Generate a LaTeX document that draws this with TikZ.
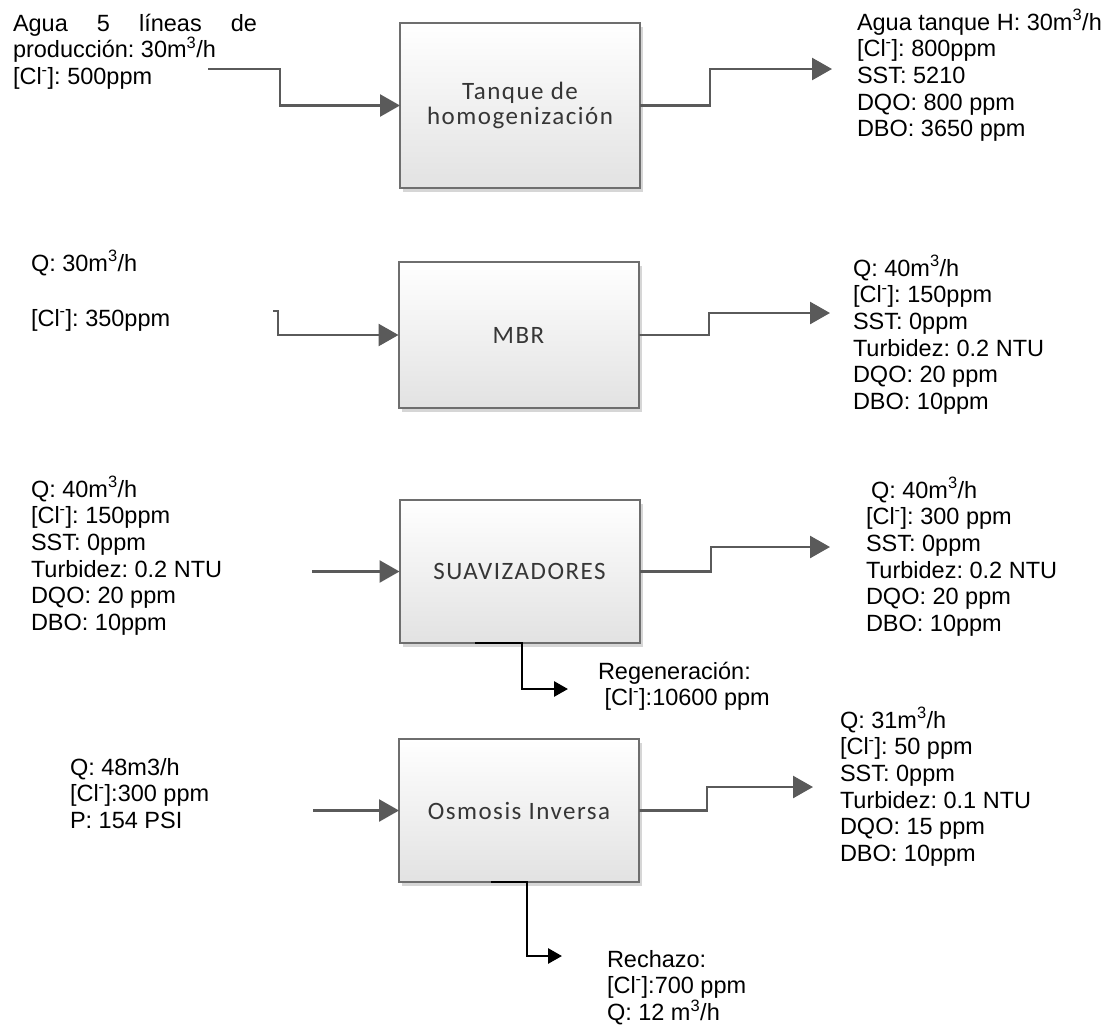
\documentclass[tikz,border=0pt]{standalone}
\usepackage{fontspec}
\setmainfont{Liberation Sans}
\newfontfamily\boxfont[LetterSpace=6]{Carlito}
\usetikzlibrary{arrows.meta,shadows}
\frenchspacing

\definecolor{linegray}{HTML}{5A5A5A}
\definecolor{boxborder}{HTML}{6E6E6E}
\definecolor{boxbottom}{HTML}{E2E2E2}
\definecolor{boxtext}{HTML}{363636}

% chemistry shorthands
\newcommand\mthree{m\textsuperscript{3}}
\newcommand\chl{[Cl\textsuperscript{-}]}
% a left-aligned block of label lines, baseline at its first line
\newcommand\txtlines[1]{\parbox[t]{330pt}{\fontsize{23.5}{26.7}\selectfont #1}}

\tikzset{
  unit/.style={draw=boxborder, line width=2pt, top color=white, bottom color=boxbottom,
    minimum width=240pt, inner sep=0pt, outer sep=0pt, align=center, text=boxtext,
    font=\boxfont\fontsize{25}{24.5}\selectfont,
    drop shadow={shadow xshift=3pt, shadow yshift=-4pt, fill=black!16, opacity=1}},
  lbl/.style={anchor=base west, inner sep=0pt, outer sep=0pt, font=\fontsize{23.5}{26.7}\selectfont},
  flow/.style={draw=linegray, line width=2.6pt, -{Triangle[length=20pt,width=22pt]}},
  drain/.style={draw=black, line width=2.8pt, -{Triangle[length=14pt,width=15pt]}}
}

\begin{document}
\begin{tikzpicture}[x=1pt, y=-1pt]
\fill[white] (0,0) rectangle (1117,1026);
\useasboundingbox (0,0) rectangle (1117,1026);

% process units
\node[unit, minimum height=165pt] (tanque) at (520,105.5) {Tanque de\\homogenización};
\node[unit, minimum height=146pt] (mbr) at (518.5,335) {MBR};
\node[unit, minimum height=143pt] (suav) at (519.5,571.5) {SUAVIZADORES};
\node[unit, minimum height=143pt] (osmosis) at (519,810.5) {Osmosis Inversa};

% stream data
\node[lbl] (t-in-txt) at (13,31) {\txtlines{\makebox[244pt][s]{Agua 5 líneas de}\\producción: 30\mthree/h\\\chl: 500ppm}};
\node[lbl] (t-out-txt) at (857,30) {\txtlines{Agua tanque H: 30\mthree/h\\\chl: 800ppm\\SST: 5210\\DQO: 800 ppm\\DBO: 3650 ppm}};

\node[lbl] (m-in-txt) at (31,271) {\txtlines{Q: 30\mthree/h\\[28.3pt]\chl: 350ppm}};
\node[lbl] (m-out-txt) at (853,276) {\txtlines{Q: 40\mthree/h\\\chl: 150ppm\\SST: 0ppm\\Turbidez: 0.2 NTU\\DQO: 20 ppm\\DBO: 10ppm}};

\node[lbl] (s-in-txt) at (31,497) {\txtlines{Q: 40\mthree/h\\\chl: 150ppm\\SST: 0ppm\\Turbidez: 0.2 NTU\\DQO: 20 ppm\\DBO: 10ppm}};
\node[lbl] (s-out-txt) at (866,498) {\txtlines{\hspace*{5pt}Q: 40\mthree/h\\\chl: 300 ppm\\SST: 0ppm\\Turbidez: 0.2 NTU\\DQO: 20 ppm\\DBO: 10ppm}};
\node[lbl] (s-reg-txt) at (598,679) {\txtlines{Regeneración:\\\hspace*{6.5pt}\chl:10600 ppm}};

\node[lbl] (o-in-txt) at (70,775) {\txtlines{Q: 48m3/h\\\chl:300 ppm\\P: 154 PSI}};
\node[lbl] (o-out-txt) at (840,728) {\txtlines{Q: 31\mthree/h\\\chl: 50 ppm\\SST: 0ppm\\Turbidez: 0.1 NTU\\DQO: 15 ppm\\DBO: 10ppm}};
\node[lbl] (o-rej-txt) at (607,967) {\txtlines{Rechazo:\\\chl:700 ppm\\Q: 12 m\textsuperscript{3}/h}};

% free ends of the streams
\coordinate (t-in) at (208,69);
\coordinate (t-out) at (832,69);
\coordinate (m-in) at (273,311);
\coordinate (m-out) at (830,313);
\coordinate (s-in) at (312,571.5);
\coordinate (s-out) at (830,547);
\coordinate (s-drain) at (475,643);
\coordinate (s-reg) at (568,689);
\coordinate (o-in) at (313,810.5);
\coordinate (o-out) at (813,787);
\coordinate (o-drain) at (491,882);
\coordinate (o-rej) at (562,956);

% streams
\draw[flow] (t-in) -- (280,69) |- (tanque.west);
\draw[flow] (tanque.east) -- (710,105.5) |- (t-out);

\draw[flow] (m-in) -- (278,311) |- (mbr.west);
\draw[flow] (mbr.east) -- (709,335) |- (m-out);

\draw[flow] (s-in) -- (suav.west);
\draw[flow] (suav.east) -- (711,571.5) |- (s-out);
\draw[drain] (s-drain) -- (522,643) |- (s-reg);

\draw[flow] (o-in) -- (osmosis.west);
\draw[flow] (osmosis.east) -- (707,810.5) |- (o-out);
\draw[drain] (o-drain) -- (527,882) |- (o-rej);
\end{tikzpicture}
\end{document}
